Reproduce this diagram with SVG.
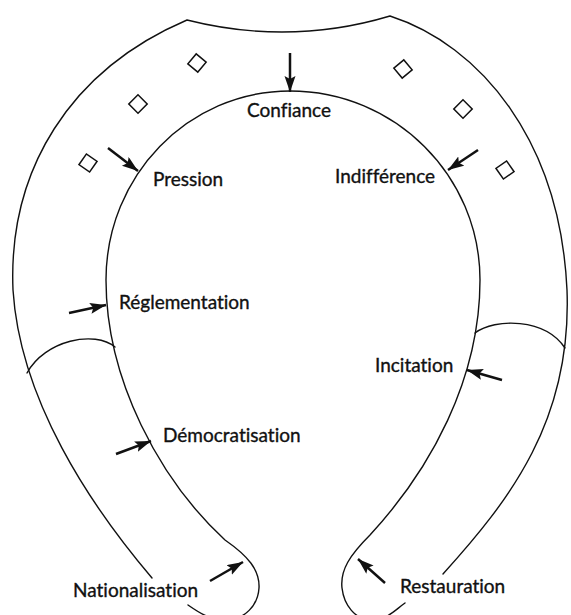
<svg xmlns="http://www.w3.org/2000/svg" width="571" height="615" viewBox="0 0 571 615">
  <style>
    .outline { fill: none; stroke: #111; stroke-width: 1.4; stroke-linecap: round; stroke-linejoin: round; }
    .stud { fill: #fff; stroke: #111; stroke-width: 1.5; }
    .arrow { stroke: #111; stroke-width: 2.5; fill: none; marker-end: url(#head); }
    .label { font-family: Lato, "Open Sans", "Liberation Sans", sans-serif; font-size: 19px; fill: #111; stroke: #111; stroke-width: 0.35; font-variant-ligatures: none; }
  </style>
  <defs>
    <marker id="head" markerUnits="userSpaceOnUse" markerWidth="18" markerHeight="12" refX="16" refY="5.5" orient="auto">
      <path d="M0,0 L16,5.5 L0,11 L3,5.5 Z" fill="#111"/>
    </marker>
    <rect id="stud" x="-6.5" y="-6.5" width="13" height="13"/>
  </defs>

  <!-- horseshoe body -->
  <g id="horseshoe">
    <!-- outer rim, open at both heels -->
    <path class="outline" d="M152,578 C90,505 20,400 13,290 C8,170 70,70 187,20 Q290,46 390,16 C480,45 560,140 567,290 C572,420 510,500 443,574"/>
    <!-- inner rim with rounded heels -->
    <path class="outline" d="M188,605 C198,612 210,620 225,620 C245,620 258,605 259,588 C260,570 248,556 225,540 C160,480 106,380 106,280 C106,176 188,91 290,91 C395,91 480,176 480,280 C480,380 430,470 370,535 C350,555 340,570 342,588 C344,605 355,620 372,620 C387,620 395,610 405,603"/>
    <!-- heel dividers -->
    <path class="outline" d="M27,373 C45,340 95,330 115,347"/>
    <path class="outline" d="M475,333 C495,318 545,318 565,348"/>
  </g>

  <!-- nail holes -->
  <g id="studs">
    <use href="#stud" class="stud" transform="translate(197,63) rotate(40)"/>
    <use href="#stud" class="stud" transform="translate(138,104) rotate(45)"/>
    <use href="#stud" class="stud" transform="translate(88,163) rotate(35)"/>
    <use href="#stud" class="stud" transform="translate(403,69) rotate(50)"/>
    <use href="#stud" class="stud" transform="translate(463,109) rotate(45)"/>
    <use href="#stud" class="stud" transform="translate(505,170) rotate(55)"/>
  </g>

  <!-- arrows pointing at the inner rim -->
  <g id="connectors">
    <line class="arrow" x1="290" y1="53" x2="290" y2="92"/>
    <line class="arrow" x1="108" y1="148" x2="138" y2="171"/>
    <line class="arrow" x1="478" y1="150" x2="448" y2="170"/>
    <line class="arrow" x1="69" y1="313" x2="106" y2="305"/>
    <line class="arrow" x1="116" y1="454" x2="151" y2="441"/>
    <line class="arrow" x1="210" y1="581" x2="243" y2="562"/>
    <line class="arrow" x1="502" y1="380" x2="467" y2="370"/>
    <line class="arrow" x1="385" y1="583" x2="358" y2="559"/>
  </g>

  <g id="node-confiance"><text class="label" x="247" y="117">Confiance</text></g>
  <g id="node-pression"><text class="label" x="153" y="186">Pression</text></g>
  <g id="node-indifference"><text class="label" x="335" y="183">Indifférence</text></g>
  <g id="node-reglementation"><text class="label" x="119" y="309">Réglementation</text></g>
  <g id="node-incitation"><text class="label" x="375" y="372">Incitation</text></g>
  <g id="node-democratisation"><text class="label" x="163" y="442">Démocratisation</text></g>
  <g id="node-nationalisation"><text class="label" x="73" y="597">Nationalisation</text></g>
  <g id="node-restauration"><text class="label" x="400" y="593">Restauration</text></g>
</svg>
